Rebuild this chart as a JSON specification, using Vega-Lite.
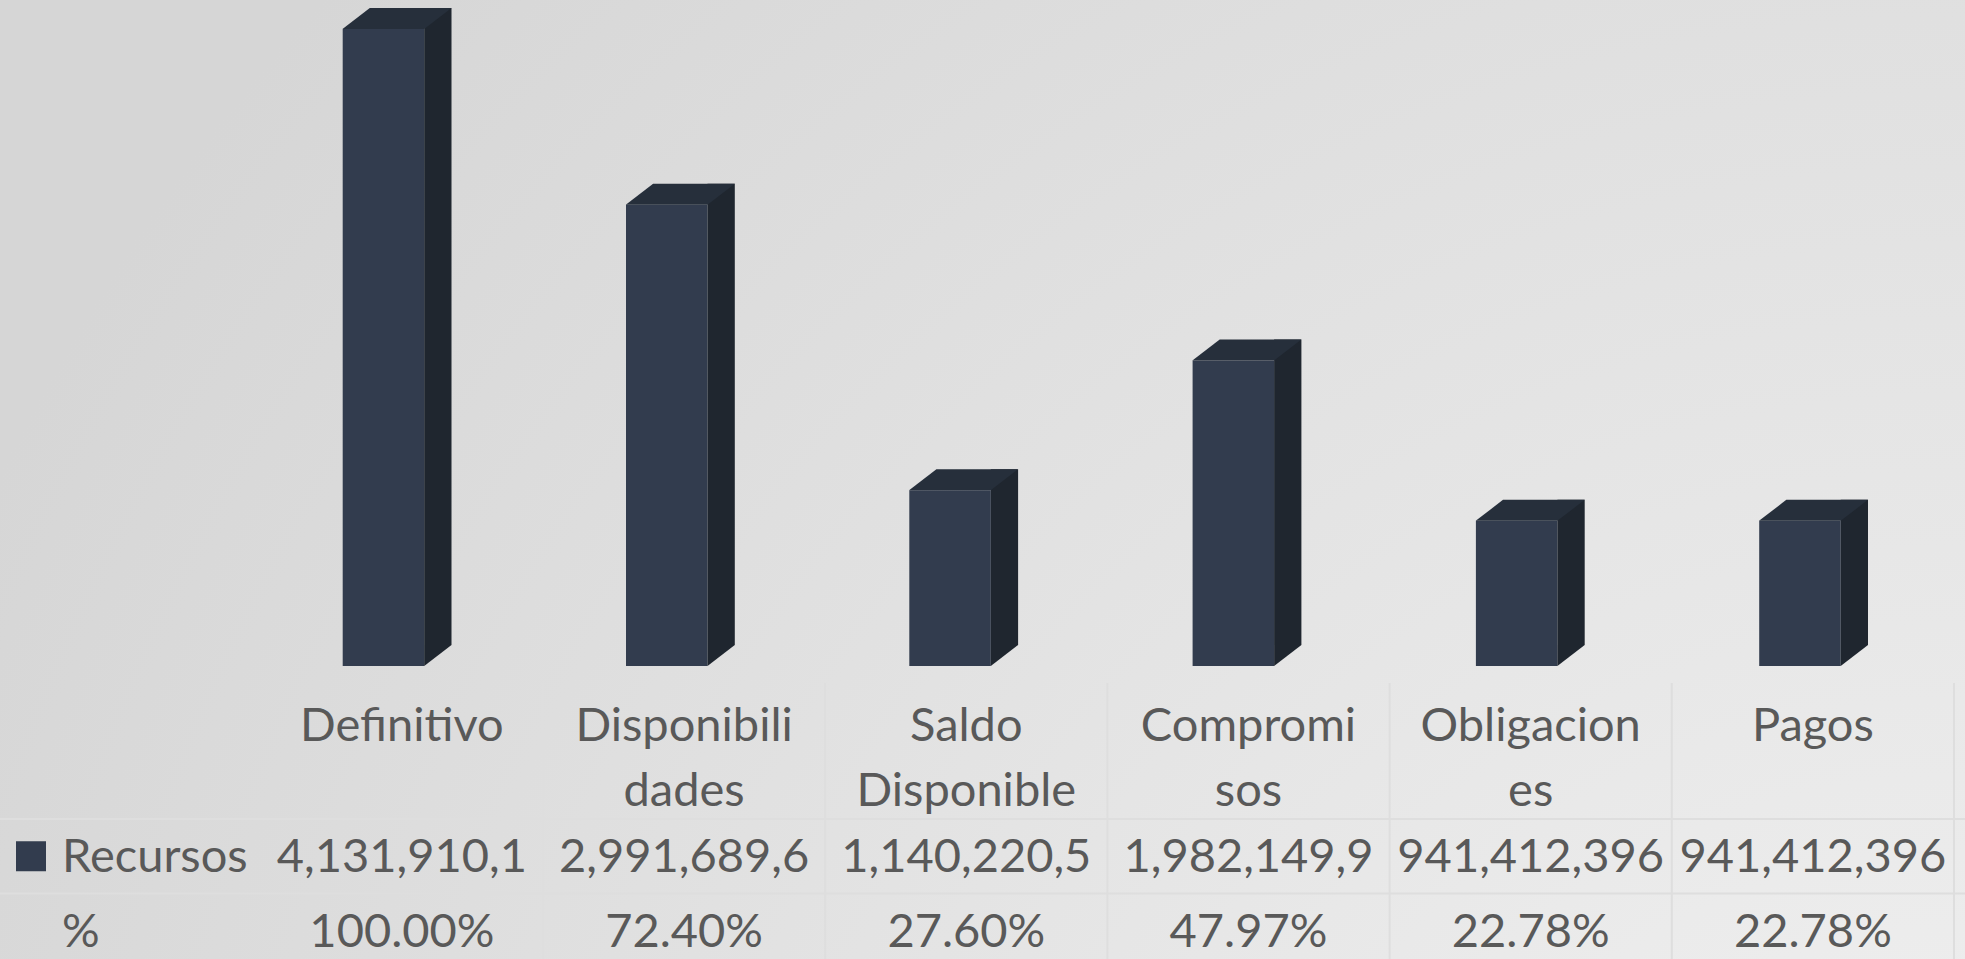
{
  "$schema": "https://vega.github.io/schema/vega-lite/v6.json",
  "width": 1965,
  "height": 959,
  "padding": 0,
  "autosize": {"type": "none"},
  "background": "#dcdcdc",
  "config": {
    "view": {"stroke": null},
    "axis": {"disable": true},
    "text": {"font": "Lato", "fontSize": 47, "color": "#595959"}
  },
  "datasets": {
    "main": [
      {"cat": "Definitivo", "header": "Definitivo", "value": 4131910100, "recursos": "4,131,910,1", "pct": "100.00%"},
      {"cat": "Disponibilidades", "header": "Disponibili\ndades", "value": 2991689600, "recursos": "2,991,689,6", "pct": "72.40%"},
      {"cat": "Saldo Disponible", "header": "Saldo\nDisponible", "value": 1140220500, "recursos": "1,140,220,5", "pct": "27.60%"},
      {"cat": "Compromisos", "header": "Compromi\nsos", "value": 1982149900, "recursos": "1,982,149,9", "pct": "47.97%"},
      {"cat": "Obligaciones", "header": "Obligacion\nes", "value": 941412396, "recursos": "941,412,396", "pct": "22.78%"},
      {"cat": "Pagos", "header": "Pagos", "value": 941412396, "recursos": "941,412,396", "pct": "22.78%"}
    ],
    "rows": [{"row": "Recursos"}, {"row": "%"}]
  },
  "data": {"name": "main"},
  "resolve": {"scale": {"x": "independent", "y": "independent"}},
  "layer": [
    {
      "data": {"values": [{}]},
      "mark": {
        "type": "rect",
        "fill": {
          "gradient": "radial",
          "x1": 1, "y1": 1, "r1": 0,
          "x2": 1, "y2": 1, "r2": 1.12,
          "stops": [
            {"offset": 0, "color": "#f3f3f3"},
            {"offset": 0.45, "color": "#e6e6e6"},
            {"offset": 1, "color": "#d6d6d6"}
          ]
        }
      },
      "encoding": {}
    },
    {
      "layer": [
        {
          "mark": {"type": "bar", "width": 81.5, "xOffset": -18.75, "color": "#323c4e"},
          "encoding": {
            "x": {"field": "cat", "type": "nominal", "scale": {"type": "band", "domain": ["Definitivo", "Disponibilidades", "Saldo Disponible", "Compromisos", "Obligaciones", "Pagos"], "range": [260.55, 1960.35], "paddingInner": 0, "paddingOuter": 0}},
            "y": {"field": "value", "type": "quantitative", "scale": {"domain": [0, 4131910100], "range": [666, 29], "nice": false, "zero": true}}
          }
        },
        {
          "mark": {"type": "bar", "width": 27.3, "xOffset": 35.65, "yOffset": -21, "y2Offset": -21, "color": "#1f262f"},
          "encoding": {
            "x": {"field": "cat", "type": "nominal", "scale": {"type": "band", "domain": ["Definitivo", "Disponibilidades", "Saldo Disponible", "Compromisos", "Obligaciones", "Pagos"], "range": [260.55, 1960.35], "paddingInner": 0, "paddingOuter": 0}},
            "y": {"field": "value", "type": "quantitative", "scale": {"domain": [0, 4131910100], "range": [666, 29], "nice": false, "zero": true}}
          }
        },
        {
          "mark": {"type": "point", "shape": "M-59.7,0L22,0L49.3,-21L-32.4,-21Z", "size": 4, "filled": true, "opacity": 1, "strokeWidth": 0, "color": "#262f3b"},
          "encoding": {
            "x": {"field": "cat", "type": "nominal", "scale": {"type": "band", "domain": ["Definitivo", "Disponibilidades", "Saldo Disponible", "Compromisos", "Obligaciones", "Pagos"], "range": [260.55, 1960.35], "paddingInner": 0, "paddingOuter": 0}},
            "y": {"field": "value", "type": "quantitative", "scale": {"domain": [0, 4131910100], "range": [666, 29], "nice": false, "zero": true}}
          }
        },
        {
          "mark": {"type": "point", "shape": "M22,-21L49.3,-21L22,0Z", "size": 4, "filled": true, "opacity": 1, "strokeWidth": 0, "color": "#1f262f"},
          "encoding": {
            "x": {"field": "cat", "type": "nominal", "scale": {"type": "band", "domain": ["Definitivo", "Disponibilidades", "Saldo Disponible", "Compromisos", "Obligaciones", "Pagos"], "range": [260.55, 1960.35], "paddingInner": 0, "paddingOuter": 0}},
            "y": {"datum": 0, "type": "quantitative", "scale": {"domain": [0, 4131910100], "range": [666, 29], "nice": false, "zero": true}}
          }
        }
      ]
    },
    {
      "layer": [
        {
          "mark": {"type": "rule", "color": "#dedede", "strokeWidth": 2, "yOffset": -173.25, "y2Offset": 40},
          "encoding": {
            "x": {"field": "cat", "type": "nominal", "bandPosition": 1, "scale": {"type": "band", "domain": ["_", "Definitivo", "Disponibilidades", "Saldo Disponible", "Compromisos", "Obligaciones", "Pagos"], "range": [-21.4, 1954], "paddingInner": 0, "paddingOuter": 0}},
            "y": {"datum": "Recursos", "type": "nominal", "scale": {"type": "band", "domain": ["Recursos", "%"], "range": [819, 968], "paddingInner": 0, "paddingOuter": 0}},
            "y2": {"datum": "%"}
          }
        },
        {
          "data": {"name": "rows"},
          "mark": {"type": "rule", "color": "#dedede", "strokeWidth": 2},
          "encoding": {
            "y": {"field": "row", "type": "nominal", "bandPosition": 0, "scale": {"type": "band", "domain": ["Recursos", "%"], "range": [819, 968], "paddingInner": 0, "paddingOuter": 0}}
          }
        },
        {
          "mark": {"type": "text", "align": "center", "baseline": "alphabetic", "dy": -115.25, "lineBreak": "\n", "lineHeight": 65},
          "encoding": {
            "x": {"field": "cat", "type": "nominal", "scale": {"type": "band", "domain": ["_", "Definitivo", "Disponibilidades", "Saldo Disponible", "Compromisos", "Obligaciones", "Pagos"], "range": [-21.4, 1954], "paddingInner": 0, "paddingOuter": 0}},
            "y": {"datum": "Recursos", "type": "nominal", "scale": {"type": "band", "domain": ["Recursos", "%"], "range": [819, 968], "paddingInner": 0, "paddingOuter": 0}},
            "text": {"field": "header", "type": "nominal"}
          }
        },
        {
          "mark": {"type": "text", "align": "center", "baseline": "alphabetic", "dy": 16},
          "encoding": {
            "x": {"field": "cat", "type": "nominal", "scale": {"type": "band", "domain": ["_", "Definitivo", "Disponibilidades", "Saldo Disponible", "Compromisos", "Obligaciones", "Pagos"], "range": [-21.4, 1954], "paddingInner": 0, "paddingOuter": 0}},
            "y": {"datum": "Recursos", "type": "nominal", "scale": {"type": "band", "domain": ["Recursos", "%"], "range": [819, 968], "paddingInner": 0, "paddingOuter": 0}},
            "text": {"field": "recursos", "type": "nominal"}
          }
        },
        {
          "mark": {"type": "text", "align": "center", "baseline": "alphabetic", "dy": 16},
          "encoding": {
            "x": {"field": "cat", "type": "nominal", "scale": {"type": "band", "domain": ["_", "Definitivo", "Disponibilidades", "Saldo Disponible", "Compromisos", "Obligaciones", "Pagos"], "range": [-21.4, 1954], "paddingInner": 0, "paddingOuter": 0}},
            "y": {"datum": "%", "type": "nominal", "scale": {"type": "band", "domain": ["Recursos", "%"], "range": [819, 968], "paddingInner": 0, "paddingOuter": 0}},
            "text": {"field": "pct", "type": "nominal"}
          }
        },
        {
          "data": {"name": "rows"},
          "mark": {"type": "text", "align": "left", "baseline": "alphabetic", "dy": 16, "dx": -57.7},
          "encoding": {
            "x": {"datum": "_", "type": "nominal", "scale": {"type": "band", "domain": ["_", "Definitivo", "Disponibilidades", "Saldo Disponible", "Compromisos", "Obligaciones", "Pagos"], "range": [-21.4, 1954], "paddingInner": 0, "paddingOuter": 0}},
            "y": {"field": "row", "type": "nominal", "scale": {"type": "band", "domain": ["Recursos", "%"], "range": [819, 968], "paddingInner": 0, "paddingOuter": 0}},
            "text": {"field": "row", "type": "nominal"}
          }
        },
        {
          "data": {"values": [{"serie": "Recursos"}]},
          "mark": {"type": "point", "shape": "square", "size": 900, "filled": true, "opacity": 1, "strokeWidth": 0, "color": "#323c4e", "xOffset": -88.7},
          "encoding": {
            "x": {"datum": "_", "type": "nominal", "scale": {"type": "band", "domain": ["_", "Definitivo", "Disponibilidades", "Saldo Disponible", "Compromisos", "Obligaciones", "Pagos"], "range": [-21.4, 1954], "paddingInner": 0, "paddingOuter": 0}},
            "y": {"field": "serie", "type": "nominal", "scale": {"type": "band", "domain": ["Recursos", "%"], "range": [819, 968], "paddingInner": 0, "paddingOuter": 0}}
          }
        }
      ]
    }
  ]
}
